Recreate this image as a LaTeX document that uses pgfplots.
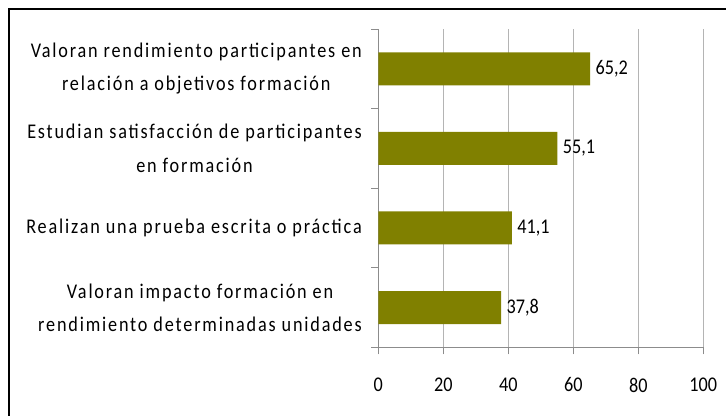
\documentclass[border=0pt]{standalone}
\usepackage{fontspec}
\setmainfont{Carlito}[FakeStretch=0.87]
\newfontfamily\labfont{Carlito}[LetterSpace=8.7,FakeStretch=0.87]
\usepackage{pgfplots}
\pgfplotsset{compat=1.18}
\definecolor{barolive}{HTML}{808000}
\definecolor{gridgray}{HTML}{B4B4B4}
\definecolor{axgray}{HTML}{8C8C8C}
\begin{document}
\begin{tikzpicture}
\useasboundingbox (0,0) rectangle (726bp,416bp);
\draw[line width=2.2bp] (9bp,0) -- (9bp,407bp) -- (727bp,407bp);
\begin{axis}[
  at={(378.3bp,68.7bp)}, anchor=south west,
  scale only axis, width=325bp, height=318.3bp,
  xmin=0, xmax=100, ymin=-0.5, ymax=3.5,
  xtick={0,20,40,60,80,100},
  ytick={0,1,2,3},
  yticklabels={{Valoran impacto formación en\\[1.5bp]rendimiento determinadas unidades},
               {Realizan una prueba escrita o práctica},
               {Estudian satisfacción de participantes\\[1.5bp]en formación},
               {Valoran rendimiento participantes en\\[1.5bp]relación a objetivos formación}},
  yticklabel style={align=center, font=\labfont\fontsize{21}{32}\selectfont, text=black, xshift=-13bp},
  minor ytick={-0.5,0.5,1.5,2.5,3.5},
  major tick length=0pt,
  minor tick length=7bp,
  extra x ticks={0,20,40,60,80,100},
  extra x tick labels={},
  extra x tick style={major tick length=7bp, tick style={axgray, line width=0.8bp}, grid=none},
  tick align=outside,
  tick style={axgray, line width=0.8bp},
  xmajorgrids, major grid style={gridgray, line width=0.8bp},
  axis x line*=bottom, axis y line*=left,
  axis line style={axgray, line width=0.8bp, -},
  xticklabel style={font=\fontsize{21}{24}\selectfont, text=black, yshift=-27bp},
  /pgf/number format/assume math mode=true,
  xbar, bar width=0.415,
  nodes near coords,
  nodes near coords style={font=\fontsize{21}{24}\selectfont, text=black, anchor=west, xshift=2bp,
     /pgf/number format/.cd, fixed, precision=1, fixed zerofill, use comma},
  clip=false,
]
\addplot[fill=barolive, draw=none] coordinates {(37.8,0) (41.1,1) (55.1,2) (65.2,3)};
\end{axis}
\end{tikzpicture}
\end{document}
